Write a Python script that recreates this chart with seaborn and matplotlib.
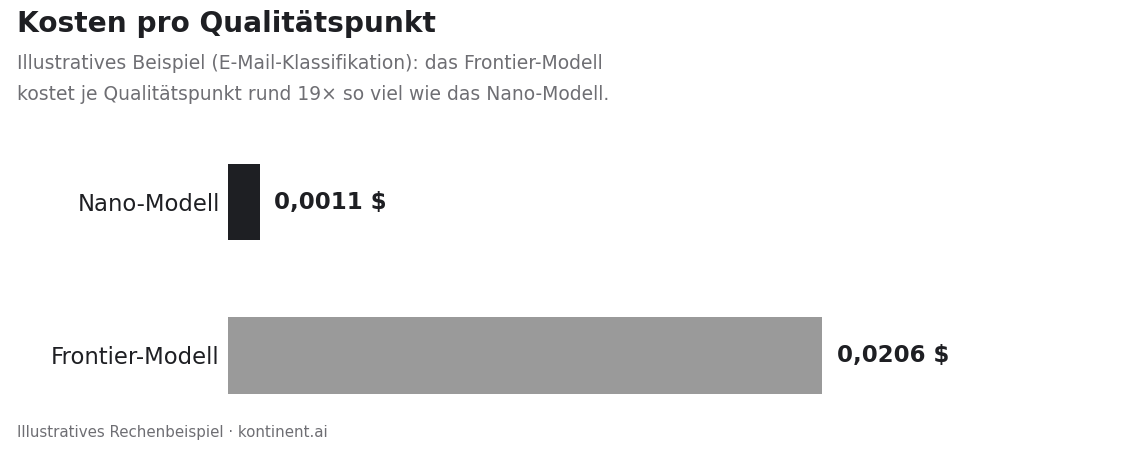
import matplotlib
matplotlib.use("Agg")
import matplotlib.pyplot as plt
import seaborn as sns
import pandas as pd

# Daten
modelle = ["Nano-Modell", "Frontier-Modell"]
kosten = [0.0011, 0.0206]
labels = ["0,0011 $", "0,0206 $"]
farben = ["#1e1f23", "#9a9a9a"]

sns.set_style("white")
plt.rcParams["font.family"] = ["DejaVu Sans"]

df = pd.DataFrame({"modell": modelle, "kosten": kosten})

fig = plt.figure(figsize=(11.4, 4.5), dpi=100)
ax = fig.add_axes([0.2, 0.071, 0.782, 0.618])

sns.barplot(data=df, x="kosten", y="modell", hue="modell", palette=farben,
            width=0.5, legend=False, ax=ax, saturation=1, linewidth=0)

ax.set_xlim(0, max(kosten) * 1.5)
ax.set_ylim(1.41, -0.405)
for i, (v, t) in enumerate(zip(kosten, labels)):
    ax.text(v + max(kosten) * 0.024, i, t, va="center", ha="left",
            fontsize=16.5, fontweight="bold", color="#1e1f23")

ax.set_xlabel("")
ax.set_ylabel("")
ax.set_xticks([])
ax.tick_params(axis="y", length=0, labelsize=16.4, labelcolor="#1e1f23", pad=6)
sns.despine(ax=ax, left=True, bottom=True)

fig.text(0.015, 0.946, "Kosten pro Qualitätspunkt", fontsize=20.2,
         fontweight="bold", color="#1e1f23", va="center")
fig.text(0.015, 0.858,
         "Illustratives Beispiel (E-Mail-Klassifikation): das Frontier-Modell",
         fontsize=13.5, color="#6e6e73", va="center")
fig.text(0.015, 0.789,
         "kostet je Qualitätspunkt rund 19× so viel wie das Nano-Modell.",
         fontsize=13.5, color="#6e6e73", va="center")
fig.text(0.015, 0.04, "Illustratives Rechenbeispiel · kontinent.ai",
         fontsize=10.8, color="#6e6e73", va="center")

fig.savefig("out.png", dpi=100)
